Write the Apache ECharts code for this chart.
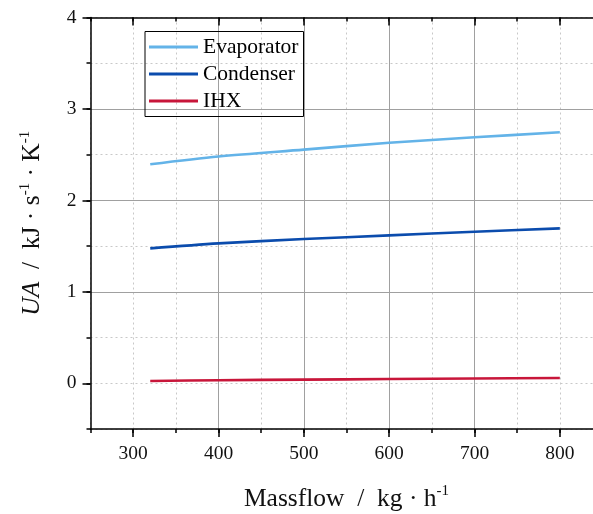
<!DOCTYPE html>
<html>
<head>
<meta charset="utf-8">
<script src="https://cdn.jsdelivr.net/npm/echarts@6/dist/echarts.min.js"></script>
<style>html,body{margin:0;padding:0;background:#fff}#c{width:593px;height:514px}</style>
</head>
<body>
<div id="c"></div>
<script>
var massflow = [320, 400, 500, 600, 700, 800];
var evaporator = [2.395, 2.48, 2.555, 2.63, 2.69, 2.745];
var condenser = [1.475, 1.53, 1.577, 1.617, 1.657, 1.694];
var ihx = [0.025, 0.033, 0.04, 0.046, 0.052, 0.058];
var seriesNames = ['Evaporator', 'Condenser', 'IHX'];
var xMajorTicks = [300, 400, 500, 600, 700, 800];
var yMajorTicks = [0, 1, 2, 3, 4];

var FONT = '"Liberation Serif", "Times New Roman", serif';
function pairs(ys) { return massflow.map(function (x, i) { return [x, ys[i]]; }); }

var black = { color: '#000', width: 1.5 };
var minorGrid = { show: true, lineStyle: { color: '#c8c8c8', type: [2, 3], width: 1 } };
var majorGrid = { show: true, showMinLine: false, showMaxLine: false, lineStyle: { color: '#a0a0a0', width: 1 } };

var chart = echarts.init(document.getElementById('c'), null, { renderer: 'canvas' });
chart.setOption({
  animation: false,
  backgroundColor: '#fff',
  grid: { left: 90.5, right: -9.5, top: 17.5, bottom: 85, containLabel: false, outerBoundsMode: 'none' },
  legend: {
    left: 145, top: 31.5,
    orient: 'vertical',
    data: seriesNames,
    icon: 'rect', itemWidth: 49, itemHeight: 3, itemGap: 0,
    padding: [2, 5, 2, 4],
    borderColor: '#000', borderWidth: 1,
    textStyle: { fontFamily: FONT, fontSize: 21.5, color: '#000', lineHeight: 27 }
  },
  xAxis: [
    { type: 'value', min: 250, max: 850, interval: 50, position: 'bottom', z: 0,
      axisLine: { show: false, onZero: false }, axisLabel: { show: false },
      axisTick: { show: true, inside: false, length: 4, lineStyle: black },
      splitLine: minorGrid },
    { type: 'value', min: 250, max: 850, splitNumber: 6, position: 'bottom', z: 1,
      axisLine: { show: true, onZero: false, lineStyle: black },
      axisTick: { show: true, inside: false, length: 8, lineStyle: black, customValues: xMajorTicks },
      axisLabel: { show: true, customValues: xMajorTicks, margin: 15, fontFamily: FONT, fontSize: 19.5, color: '#111' },
      splitLine: majorGrid,
      name: '{t|Massflow  /  kg · h}{s|-1}', nameLocation: 'middle', nameGap: 55,
      nameTextStyle: { rich: {
        t: { fontFamily: FONT, fontSize: 25.5, color: '#111', lineHeight: 28, verticalAlign: 'bottom' },
        s: { fontFamily: FONT, fontSize: 15, color: '#111', lineHeight: 28, verticalAlign: 'top' } } } },
    { type: 'value', min: 250, max: 850, interval: 50, position: 'top', z: 0,
      axisLine: { show: false, onZero: false }, axisLabel: { show: false },
      axisTick: { show: true, inside: true, length: 4, lineStyle: black },
      splitLine: { show: false } },
    { type: 'value', min: 250, max: 850, splitNumber: 6, position: 'top', z: 1,
      axisLine: { show: true, onZero: false, lineStyle: black },
      axisTick: { show: true, inside: true, length: 8, lineStyle: black, customValues: xMajorTicks },
      axisLabel: { show: false },
      splitLine: { show: false } }
  ],
  yAxis: [
    { type: 'value', min: -0.5, max: 4, interval: 0.5, position: 'left', z: 0,
      axisLine: { show: false, onZero: false }, axisLabel: { show: false },
      axisTick: { show: true, inside: false, length: 4, lineStyle: black },
      splitLine: minorGrid },
    { type: 'value', min: -0.5, max: 4, splitNumber: 5, position: 'left', z: 1,
      axisLine: { show: true, onZero: false, lineStyle: black },
      axisTick: { show: true, inside: false, length: 8, lineStyle: black, customValues: yMajorTicks },
      axisLabel: { show: true, customValues: yMajorTicks, margin: 14, fontFamily: FONT, fontSize: 19.5, color: '#111' },
      splitLine: majorGrid,
      name: '{i|UA}{t|  /  kJ · s}{s|-1}{t| · K}{s|-1}', nameLocation: 'middle', nameGap: 45,
      nameTextStyle: { rich: {
        i: { fontFamily: FONT, fontStyle: 'italic', fontSize: 25.5, color: '#111', lineHeight: 28, verticalAlign: 'bottom' },
        t: { fontFamily: FONT, fontSize: 25.5, color: '#111', lineHeight: 28, verticalAlign: 'bottom' },
        s: { fontFamily: FONT, fontSize: 15, color: '#111', lineHeight: 28, verticalAlign: 'top' } } } }
  ],
  series: [
    { name: seriesNames[0], type: 'line', xAxisIndex: 1, yAxisIndex: 1, data: pairs(evaporator),
      showSymbol: false, smooth: 0.3, lineStyle: { color: '#63b3e8', width: 2.6 }, itemStyle: { color: '#63b3e8' } },
    { name: seriesNames[1], type: 'line', xAxisIndex: 1, yAxisIndex: 1, data: pairs(condenser),
      showSymbol: false, smooth: 0.3, lineStyle: { color: '#0b4cad', width: 2.6 }, itemStyle: { color: '#0b4cad' } },
    { name: seriesNames[2], type: 'line', xAxisIndex: 1, yAxisIndex: 1, data: pairs(ihx),
      showSymbol: false, smooth: 0.3, lineStyle: { color: '#c8163a', width: 2.6 }, itemStyle: { color: '#c8163a' } }
  ]
});
</script>
</body>
</html>
